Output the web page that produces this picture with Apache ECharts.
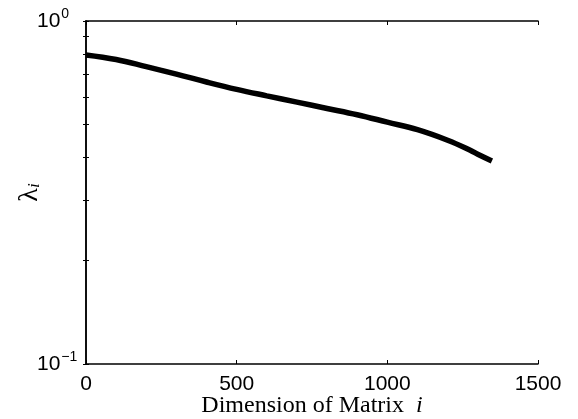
<!DOCTYPE html>
<html>
<head>
<meta charset="utf-8">
<script src="https://cdn.jsdelivr.net/npm/echarts@6/dist/echarts.min.js"></script>
<style>html,body{margin:0;padding:0;background:#fff;}#c{width:578px;height:419px;}</style>
</head>
<body>
<div id="c"></div>
<script>
const dims = [0, 100, 200, 300, 400, 500, 600, 700, 800, 900, 1000, 1100, 1200, 1275, 1300, 1347];
const lambda = [0.796, 0.772, 0.736, 0.700, 0.664, 0.632, 0.605, 0.580, 0.556, 0.533, 0.507, 0.482, 0.449, 0.420, 0.409, 0.391];
const xTicks = [0, 500, 1000, 1500];
const yMinorTicks = [0.1, 0.2, 0.3, 0.4, 0.5, 0.6, 0.7, 0.8, 0.9, 1];
const yLabels = [0.1, 1];

const chart = echarts.init(document.getElementById('c'));
const axisLine = { show: true, lineStyle: { color: '#000', width: 1.5 } };
const fmtY = v => {
  const e = Math.round(Math.log10(v));
  return '{b|10}{e|' + (e < 0 ? '\u2212' + (-e) : e) + '}';
};
const richY = {
  b: { fontFamily: 'Liberation Sans', fontSize: 21, color: '#000' },
  e: { fontFamily: 'Liberation Sans', fontSize: 14, color: '#000', padding: [0, 0, 14, 1] }
};
chart.setOption({
  animation: false,
  backgroundColor: '#fff',
  grid: { left: 86, right: 40, top: 21, bottom: 55, outerBoundsMode: 'none', containLabel: false },
  xAxis: [{
    type: 'value', min: 0, max: 1500, interval: 500,
    axisLine, splitLine: { show: false },
    axisTick: { show: true, inside: true, length: 4, lineStyle: { color: '#000' }, customValues: xTicks },
    axisLabel: { color: '#000', fontFamily: 'Liberation Sans', fontSize: 21, margin: 10, customValues: xTicks, formatter: v => String(v) },
    name: '{n|Dimension of Matrix  }{i|i}', nameLocation: 'middle', nameGap: 30, nameMoveOverlap: false,
    nameTextStyle: { rich: {
      n: { fontFamily: 'Liberation Serif', fontSize: 24, color: '#000' },
      i: { fontFamily: 'Liberation Serif', fontStyle: 'italic', fontSize: 24, color: '#000' }
    } }
  }, {
    type: 'value', position: 'top', min: 0, max: 1500, interval: 500,
    axisLine, splitLine: { show: false }, axisLabel: { show: false },
    axisTick: { show: true, inside: true, length: 4, lineStyle: { color: '#000' } }
  }],
  yAxis: [{
    type: 'log', logBase: 10, min: 0.1, max: 1,
    axisLine, splitLine: { show: false },
    axisTick: { show: true, inside: true, length: 3, lineStyle: { color: '#000' }, customValues: yMinorTicks },
    axisLabel: { formatter: fmtY, rich: richY, align: 'left', margin: 49, customValues: yLabels },
    name: '{l|\u03bb}{s|i}', nameLocation: 'middle', nameRotate: 90, nameGap: 42, nameMoveOverlap: false,
    nameTextStyle: { rich: {
      l: { fontFamily: 'Liberation Serif', fontSize: 28, color: '#000' },
      s: { fontFamily: 'Liberation Serif', fontStyle: 'italic', fontSize: 17, color: '#000', padding: [10, 0, 0, 0] }
    } }
  }, {
    type: 'log', logBase: 10, min: 0.1, max: 1, position: 'right',
    axisLine, splitLine: { show: false }, axisLabel: { show: false },
    axisTick: { show: true, inside: true, length: 3, lineStyle: { color: '#000' }, customValues: yMinorTicks }
  }],
  series: [{
    type: 'line', smooth: 0.4, showSymbol: false,
    lineStyle: { color: '#000', width: 5.5 },
    data: dims.map((d, k) => [d, lambda[k]])
  }]
});
</script>
</body>
</html>
